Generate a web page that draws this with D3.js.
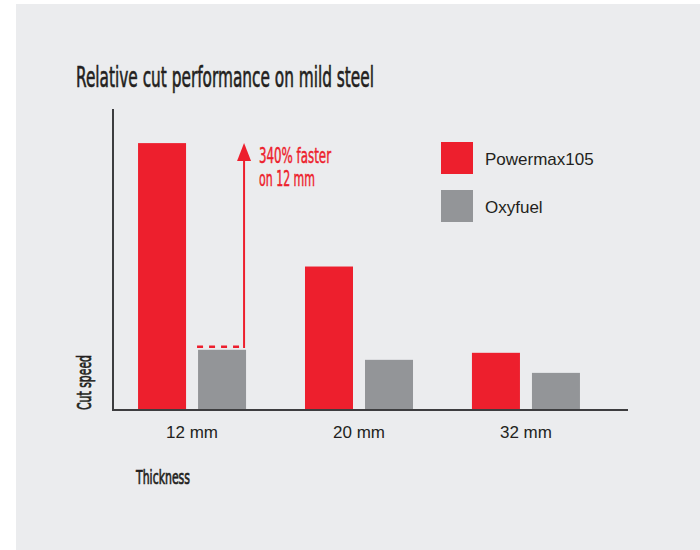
<!DOCTYPE html>
<html>
<head>
<meta charset="utf-8">
<script src="https://cdn.jsdelivr.net/npm/d3@7"></script>
<style>
  html, body { margin: 0; padding: 0; background: #ffffff; }
  svg { display: block; }
  .cond { font-family: "Liberation Sans Narrow", "DejaVu Sans Condensed", "Roboto Condensed", sans-serif; font-stretch: condensed; }
  .reg { font-family: "Liberation Sans", Arial, Helvetica, sans-serif; }
</style>
</head>
<body>
<svg id="chart" width="700" height="550"></svg>
<script>
// ---- data ----
const categories = ["12 mm", "20 mm", "32 mm"];
const seriesNames = ["Powermax105", "Oxyfuel"];
const powermaxValues = [266, 143, 57];
const oxyfuelValues = [60, 50, 37];
const titleText = "Relative cut performance on mild steel";
const yAxisLabel = "Cut speed";
const xAxisLabel = "Thickness";
const annotationLines = ["340% faster", "on 12 mm"];

const colors = { Powermax105: "#ed1f2d", Oxyfuel: "#939598" };

const svg = d3.select("#chart");

// background panel
svg.append("rect").attr("x", 16).attr("y", 4).attr("width", 684).attr("height", 546).attr("fill", "#ebecee");

const baseY = 410, topY = 109, leftX = 113, axisRight = 628;

const x = d3.scaleBand().domain(categories).range([leftX, 605]).paddingInner(0.353).paddingOuter(0.15);
const xs = d3.scaleBand().domain(seriesNames).range([0, x.bandwidth()]).paddingInner(0.2);
const y = d3.scaleLinear().domain([0, 300]).range([baseY, topY]);

const rows = categories.map((c, i) => ({ cat: c, Powermax105: powermaxValues[i], Oxyfuel: oxyfuelValues[i] }));

const ink = "#231f20";

// title
svg.append("text").attr("class", "cond").attr("x", 76).attr("y", 87)
  .attr("font-size", 28).attr("fill", ink).attr("stroke", ink).attr("stroke-width", 0.6)
  .attr("textLength", 298).attr("lengthAdjust", "spacingAndGlyphs")
  .text(titleText);

// bars
const g = svg.append("g");
rows.forEach(r => {
  seriesNames.forEach(s => {
    g.append("rect")
      .attr("x", x(r.cat) + xs(s))
      .attr("y", y(r[s]))
      .attr("width", xs.bandwidth())
      .attr("height", y(0) - y(r[s]))
      .attr("fill", colors[s]);
  });
});

// axes
svg.append("line").attr("x1", leftX).attr("x2", leftX).attr("y1", topY).attr("y2", baseY + 1)
  .attr("stroke", "#3d3d3f").attr("stroke-width", 2);
svg.append("line").attr("x1", leftX - 1).attr("x2", axisRight).attr("y1", baseY).attr("y2", baseY)
  .attr("stroke", "#3d3d3f").attr("stroke-width", 2);

// x tick labels via axis
const xAxis = d3.axisBottom(x).tickSize(0).tickPadding(0);
const ax = svg.append("g").attr("transform", `translate(0,${baseY})`).call(xAxis);
ax.select(".domain").remove();
ax.selectAll("text").attr("class", "reg").attr("font-size", 17).attr("fill", ink)
  .attr("dy", null).attr("y", 28);

// axis titles
svg.append("text").attr("class", "cond").attr("transform", `translate(91,${baseY}) rotate(-90)`)
  .attr("font-size", 19).attr("fill", ink).attr("stroke", ink).attr("stroke-width", 0.7)
  .attr("textLength", 55).attr("lengthAdjust", "spacingAndGlyphs")
  .text(yAxisLabel);
svg.append("text").attr("class", "cond").attr("x", 136).attr("y", 484)
  .attr("font-size", 19).attr("fill", ink).attr("stroke", ink).attr("stroke-width", 0.7)
  .attr("textLength", 54).attr("lengthAdjust", "spacingAndGlyphs")
  .text(xAxisLabel);

// annotation: dashed line + arrow
const red = colors.Powermax105;
const gx0 = x(categories[0]) + xs("Oxyfuel");
const gx1 = gx0 + xs.bandwidth();
const arrowX = gx1 - 2;
const yLow = y(oxyfuelValues[0]) - 3;
const yHigh = y(powermaxValues[0]);
svg.append("line").attr("x1", gx0 - 1).attr("x2", arrowX).attr("y1", yLow).attr("y2", yLow)
  .attr("stroke", red).attr("stroke-width", 2.5).attr("stroke-dasharray", "6,6");
svg.append("line").attr("x1", arrowX).attr("x2", arrowX).attr("y1", yLow + 1.2).attr("y2", yHigh + 14)
  .attr("stroke", red).attr("stroke-width", 2);
svg.append("path")
  .attr("d", `M${arrowX},${yHigh} L${arrowX - 7},${yHigh + 18} L${arrowX + 7},${yHigh + 18} Z`)
  .attr("fill", red);
const ann = svg.append("text").attr("class", "cond").attr("fill", red).attr("stroke", red)
  .attr("stroke-width", 0.5).attr("font-size", 21);
annotationLines.forEach((t, i) => {
  ann.append("tspan").attr("x", 259).attr("y", 163 + i * 23)
    .attr("textLength", i === 0 ? 72 : 56).attr("lengthAdjust", "spacingAndGlyphs").text(t);
});

// legend
const leg = svg.append("g");
seriesNames.forEach((s, i) => {
  const ly = 142 + i * 48;
  leg.append("rect").attr("x", 441).attr("y", ly).attr("width", 32).attr("height", 32).attr("fill", colors[s]);
  leg.append("text").attr("class", "reg").attr("x", 485).attr("y", ly + 23)
    .attr("font-size", 17).attr("fill", ink).text(s);
});
</script>
</body>
</html>
